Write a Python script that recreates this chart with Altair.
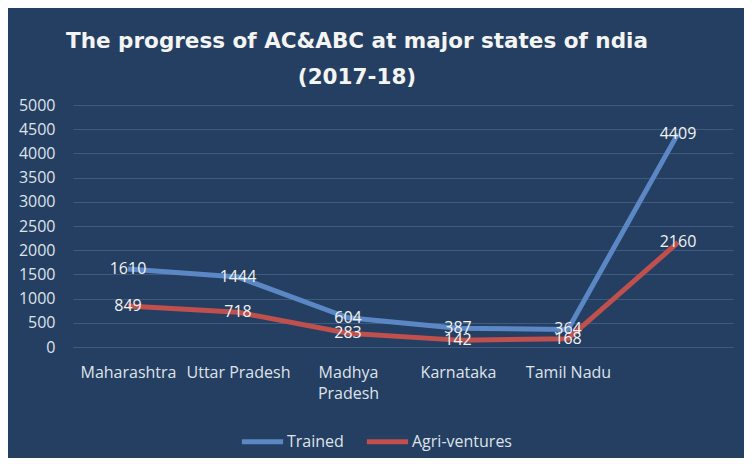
import altair as alt
import pandas as pd

states = ["Maharashtra", "Uttar Pradesh", "Madhya Pradesh", "Karnataka", "Tamil Nadu", ""]
trained = [1610, 1444, 604, 387, 364, 4409]
agri_ventures = [849, 718, 283, 142, 168, 2160]
series_names = ["Trained", "Agri-ventures"]
y_ticks = [0, 500, 1000, 1500, 2000, 2500, 3000, 3500, 4000, 4500, 5000]

rows = []
for s, t, a in zip(states, trained, agri_ventures):
    rows.append({"State": s, "Series": "Trained", "Value": t})
    rows.append({"State": s, "Series": "Agri-ventures", "Value": a})
df = pd.DataFrame(rows)

BG = "#243f61"
GRID = "#3f5a7c"
TXT = "#dfe3ea"
FONT = "Open Sans"

x_enc = alt.X(
    "State:N",
    sort=states,
    scale=alt.Scale(type="point", padding=0.5),
    axis=alt.Axis(
        title=None,
        labelAngle=0,
        labelFontSize=16,
        labelColor=TXT,
        labelFont=FONT,
        labelPadding=17,
        labelLineHeight=21,
        labelExpr="datum.value == 'Madhya Pradesh' ? ['Madhya', 'Pradesh'] : datum.value",
        ticks=False,
        domainColor=GRID,
        domainWidth=1,
        grid=False,
    ),
)
y_enc = alt.Y(
    "Value:Q",
    scale=alt.Scale(domain=[0, 5000], nice=False),
    axis=alt.Axis(
        title=None,
        values=y_ticks,
        format="d",
        labelOverlap=False,
        labelFontSize=16,
        labelColor=TXT,
        labelFont=FONT,
        labelPadding=18,
        ticks=False,
        domain=False,
        grid=True,
        gridColor=GRID,
        gridWidth=1,
    ),
)
color_enc = alt.Color(
    "Series:N",
    sort=series_names,
    scale=alt.Scale(domain=series_names, range=["#5b87c5", "#c0504d"]),
    legend=alt.Legend(
        title=None,
        orient="none",
        legendX=166,
        legendY=313,
        direction="horizontal",
        symbolType="stroke",
        symbolSize=1700,
        symbolStrokeWidth=5,
        labelFontSize=16,
        labelColor=TXT,
        labelFont=FONT,
        labelOffset=1,
        columnPadding=12,
    ),
)

base = alt.Chart(df).encode(x=x_enc, y=y_enc)
lines = base.mark_line(strokeWidth=5, interpolate="linear", strokeJoin="round").encode(
    color=color_enc
)
labels = base.mark_text(fontSize=16, font=FONT, color="#f2f2f2").encode(
    text=alt.Text("Value:Q", format="d"),
    detail="Series:N",
)

chart = (
    alt.layer(lines, labels)
    .properties(
        width=660,
        height=242,
        autosize=alt.AutoSizeParams(type="none"),
        padding={"left": 65, "top": 97, "right": 11, "bottom": 111},
        title=alt.TitleParams(
            text=["The progress of AC&ABC at major states of ndia", "(2017-18)"],
            fontSize=21.5,
            font="DejaVu Sans",
            fontWeight="bold",
            color="#f4f4f4",
            anchor="middle",
            frame="group",
            lineHeight=36,
            offset=8,
            dx=-46,
            dy=-1,
        ),
        background=BG,
    )
    .configure_view(stroke=None)
)

chart.save("out.html", embed_options={"renderer": "svg", "actions": False})
